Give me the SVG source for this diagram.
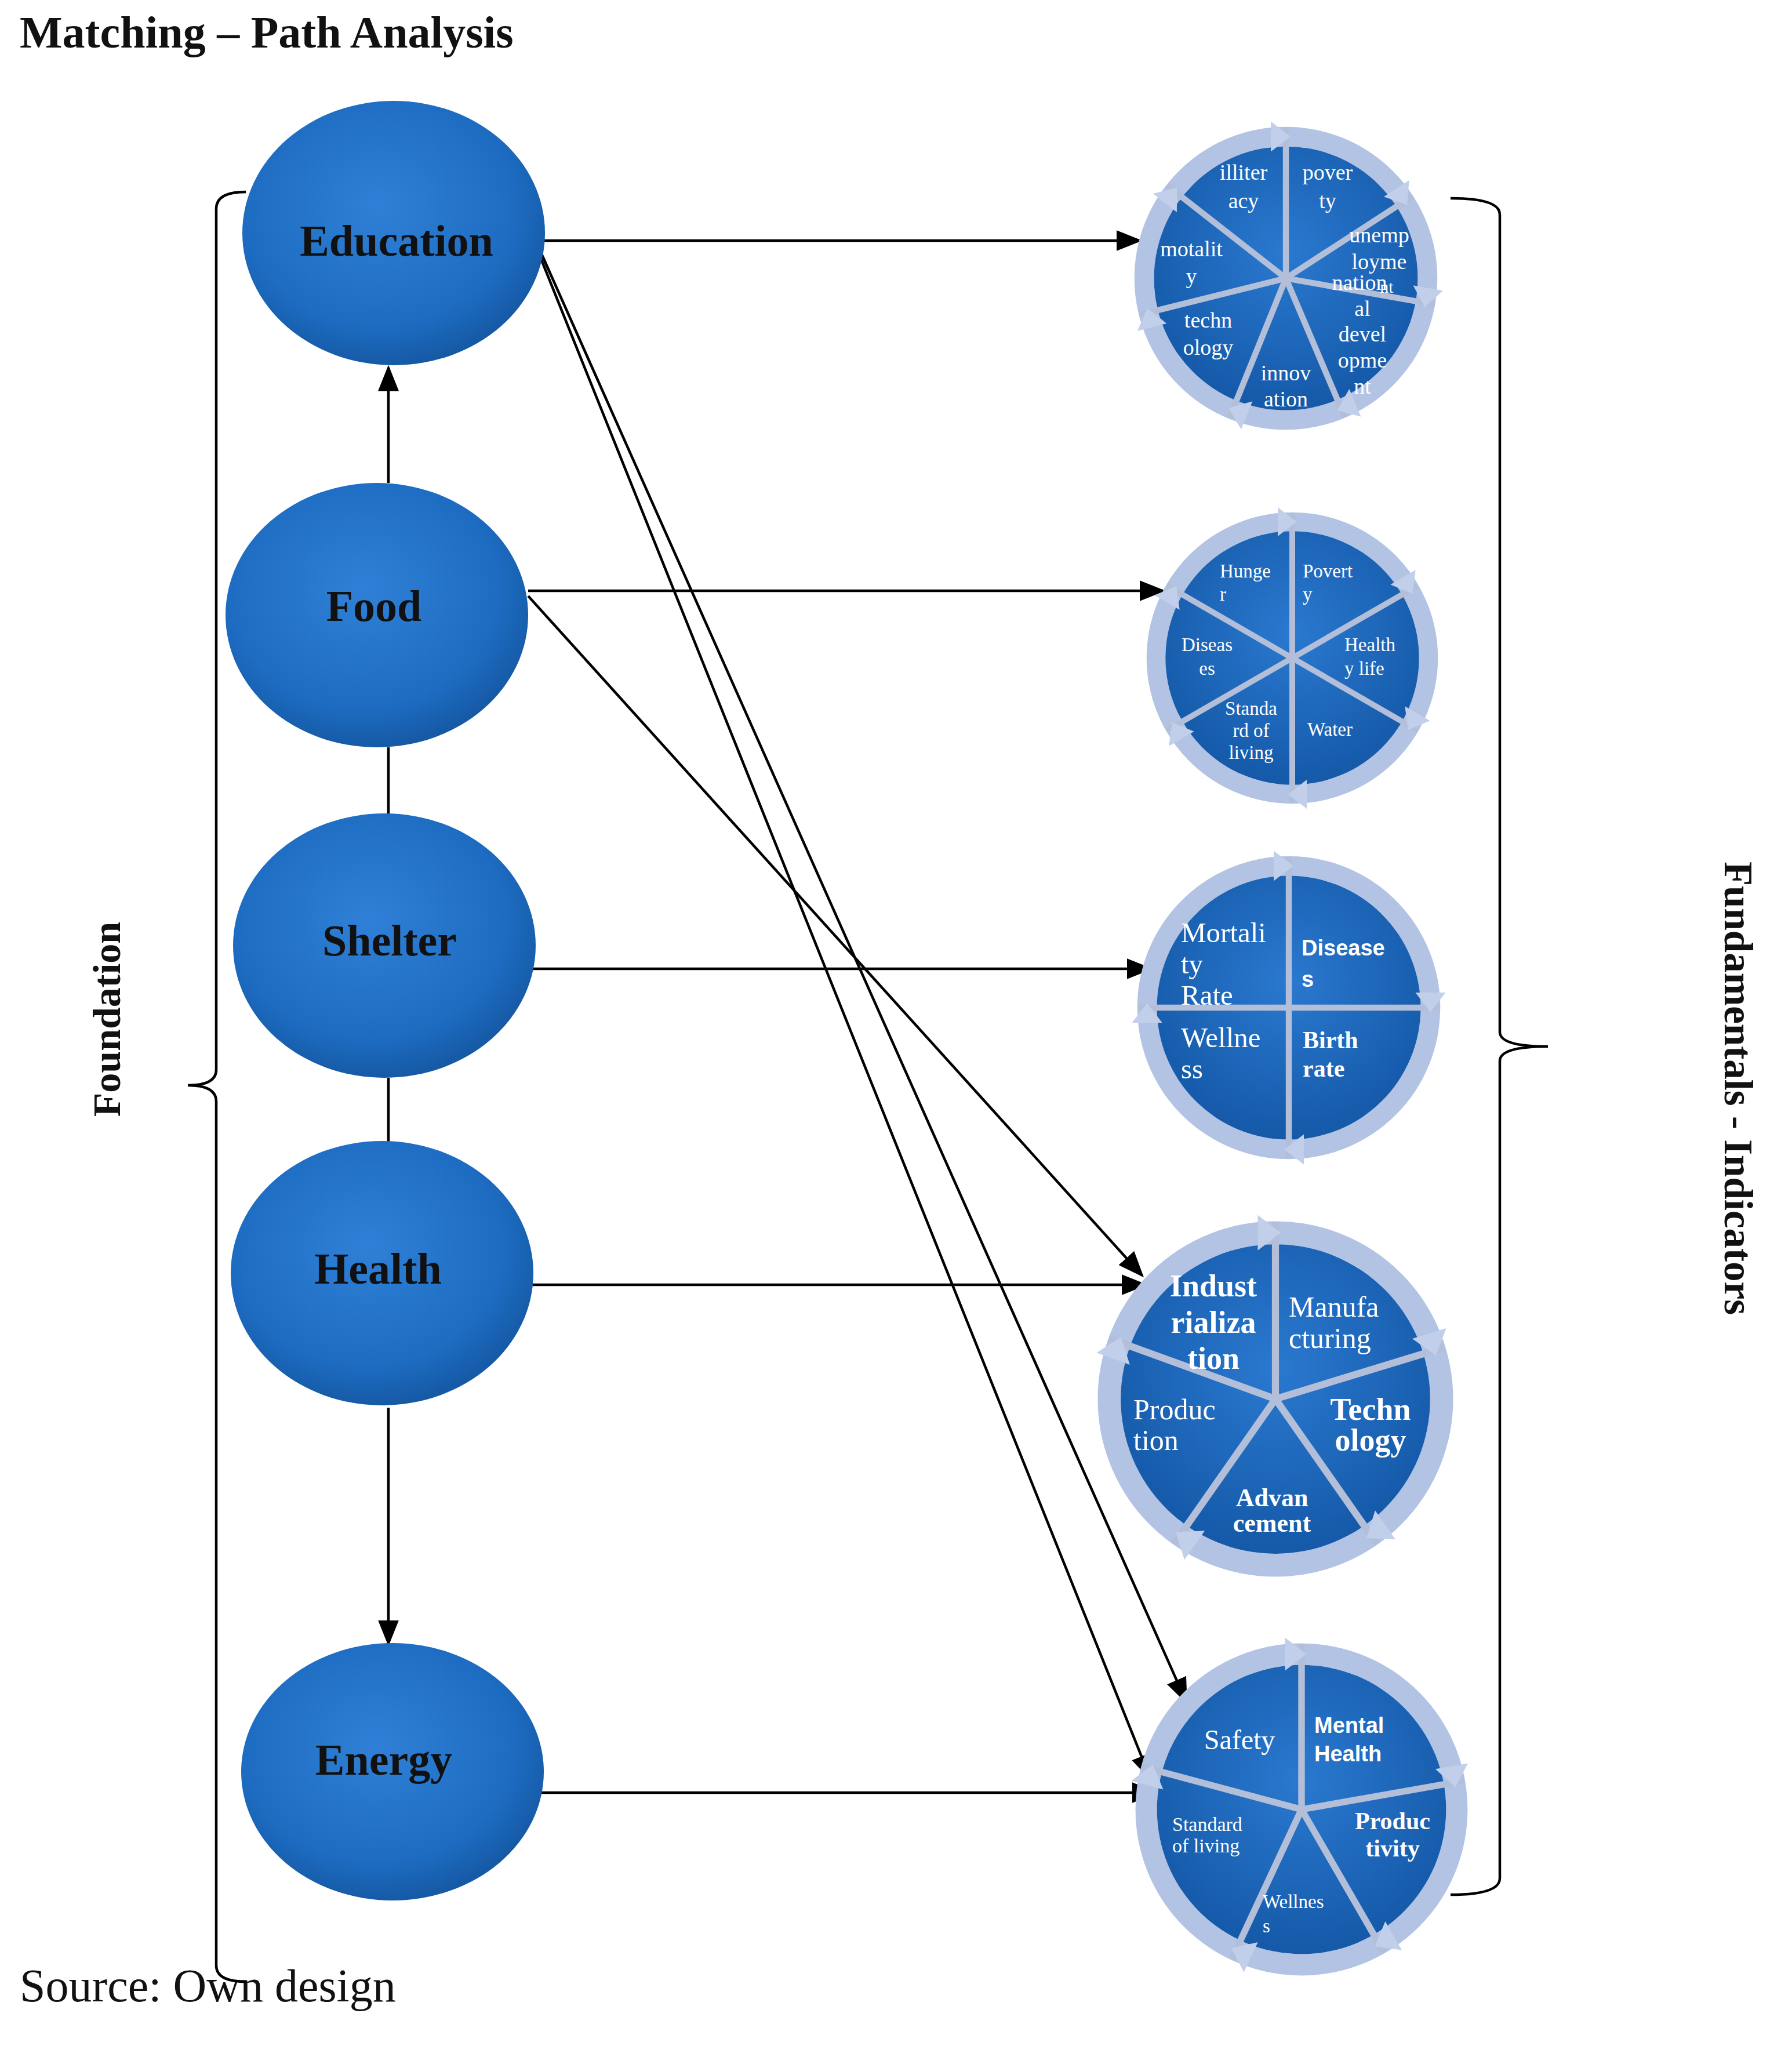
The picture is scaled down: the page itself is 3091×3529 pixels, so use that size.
<svg xmlns="http://www.w3.org/2000/svg" xmlns:xlink="http://www.w3.org/1999/xlink" width="3091" height="3529" viewBox="0 0 3091 3529">
<style>
.t{font-family:"Liberation Serif",serif;fill:#111}
.n{font-family:"Liberation Serif",serif;font-weight:bold;font-size:76px;fill:#111;text-anchor:middle;dominant-baseline:central}
.w{font-family:"Liberation Serif",serif;fill:#fff;dominant-baseline:central}
.ws{font-family:"Liberation Sans",sans-serif;font-weight:bold;fill:#fff;dominant-baseline:central}
.c{stroke:#000;stroke-width:4.5;fill:none}
.a{marker-end:url(#ar)}
.dv{stroke:#b3bfd8;stroke-width:4}
</style>
<defs>
<marker id="ar" markerWidth="10" markerHeight="8" refX="9" refY="4" orient="auto" markerUnits="strokeWidth"><path d="M0,0L10,4L0,8z" fill="#000"/></marker>
<radialGradient id="eg" cx="45%" cy="40%" r="60%"><stop offset="0" stop-color="#2f80d6"/><stop offset="0.75" stop-color="#1d6cc2"/><stop offset="1" stop-color="#165aa6"/></radialGradient>
<radialGradient id="pg" cx="50%" cy="40%" r="60%"><stop offset="0" stop-color="#2a79d0"/><stop offset="1" stop-color="#1559a8"/></radialGradient>
<g id="ring"><circle r="94" fill="none" stroke="#b2c3e4" stroke-width="13"/><circle r="87.5" fill="url(#pg)"/></g>
<g id="dv"><line x1="0" y1="0" x2="0" y2="-100" class="dv"/><polygon points="-10,-104 3,-94 -10,-84" fill="#c2cfea"/></g>
</defs>
<text x="34" y="82" class="t" font-size="78" font-weight="bold">Matching – Path Analysis</text>
<text x="34" y="3452" class="t" font-size="80">Source: Own design</text>

<g id="connectors">
<line x1="670" y1="833" x2="670" y2="634" class="c a"/>
<line x1="670" y1="1289" x2="670" y2="1407" class="c"/>
<line x1="670" y1="1859" x2="670" y2="1970" class="c"/>
<line x1="670" y1="2428" x2="670" y2="2835" class="c a"/>
<line x1="927" y1="415" x2="1966" y2="415" class="c a"/>
<line x1="911" y1="1019" x2="2006" y2="1019" class="c a"/>
<line x1="916" y1="1671" x2="1984" y2="1671" class="c a"/>
<line x1="916" y1="2216" x2="1975" y2="2216" class="c a"/>
<line x1="903" y1="3092" x2="1993" y2="3092" class="c a"/>
<line x1="911" y1="1028" x2="1970" y2="2200" class="c a"/>
<line x1="923" y1="413" x2="2046" y2="2935" class="c a"/>
<line x1="929" y1="436" x2="1984" y2="3067" class="c a"/>
<path d="M424,331 Q373,331 373,360 L373,1845 Q373,1872 324,1872 Q373,1872 373,1900 L373,3390 Q373,3418 424,3418" class="c" stroke-width="4"/>
<path d="M2502,342 Q2587,342 2587,370 L2587,1780 Q2587,1805 2670,1805 Q2587,1805 2587,1830 L2587,3240 Q2587,3268 2502,3268" class="c" stroke-width="4"/>
</g>
<text class="t" font-size="68" font-weight="bold" text-anchor="middle" transform="translate(207,1758) rotate(-90)">Foundation</text>
<text class="t" font-size="69" font-weight="bold" text-anchor="middle" transform="translate(2975,1877) rotate(90)">Fundamentals - Indicators</text>

<g id="education"><ellipse cx="679" cy="402" rx="261" ry="228" fill="url(#eg)"/><text x="684" y="415" class="n">Education</text></g>
<g id="food"><ellipse cx="650" cy="1061" rx="261" ry="228" fill="url(#eg)"/><text x="645" y="1045" class="n">Food</text></g>
<g id="shelter"><ellipse cx="663" cy="1631" rx="261" ry="228" fill="url(#eg)"/><text x="672" y="1622" class="n">Shelter</text></g>
<g id="health"><ellipse cx="659" cy="2196" rx="261" ry="228" fill="url(#eg)"/><text x="652" y="2188" class="n">Health</text></g>
<g id="energy"><ellipse cx="677" cy="3056" rx="261" ry="222" fill="url(#eg)"/><text x="662" y="3035" class="n">Energy</text></g>

<g id="pie1">
<g transform="translate(2218,480) scale(2.6)"><use href="#ring"/>
<use href="#dv"/><use href="#dv" transform="rotate(57)"/><use href="#dv" transform="rotate(100)"/><use href="#dv" transform="rotate(157)"/><use href="#dv" transform="rotate(202)"/><use href="#dv" transform="rotate(256)"/><use href="#dv" transform="rotate(308)"/></g>
<g class="w" font-size="38" text-anchor="middle">
<text x="2145" y="297">illiter</text><text x="2145" y="346">acy</text>
<text x="2290" y="297">pover</text><text x="2290" y="346">ty</text>
<text x="2379" y="405">unemp</text><text x="2379" y="451">loyme</text><text x="2392" y="494" font-size="30">nt</text>
<text x="2345" y="487">nation</text><text x="2350" y="532">al</text><text x="2350" y="576">devel</text><text x="2350" y="621">opme</text><text x="2350" y="666">nt</text>
<text x="2218" y="643">innov</text><text x="2218" y="688">ation</text>
<text x="2084" y="552">techn</text><text x="2084" y="599">ology</text>
<text x="2055" y="429">motalit</text><text x="2055" y="476">y</text>
</g></g>

<g id="pie2">
<g transform="translate(2229,1135) scale(2.5)"><use href="#ring"/>
<use href="#dv"/><use href="#dv" transform="rotate(60)"/><use href="#dv" transform="rotate(120)"/><use href="#dv" transform="rotate(180)"/><use href="#dv" transform="rotate(240)"/><use href="#dv" transform="rotate(300)"/></g>
<g class="w" font-size="33">
<text x="2104" y="985">Hunge</text><text x="2104" y="1025">r</text>
<text x="2247" y="985">Povert</text><text x="2247" y="1025">y</text>
<text x="2319" y="1112">Health</text><text x="2319" y="1153">y life</text>
<text x="2082" y="1112" text-anchor="middle">Diseas</text><text x="2082" y="1153" text-anchor="middle">es</text>
<text x="2158" y="1222" text-anchor="middle">Standa</text><text x="2158" y="1260" text-anchor="middle">rd of</text><text x="2158" y="1298" text-anchor="middle">living</text>
<text x="2294" y="1258" text-anchor="middle">Water</text>
</g></g>

<g id="pie3">
<g transform="translate(2223,1738) scale(2.6)"><use href="#ring"/>
<use href="#dv"/><use href="#dv" transform="rotate(90)"/><use href="#dv" transform="rotate(180)"/><use href="#dv" transform="rotate(270)"/></g>
<text x="2037" y="1608" class="w" font-size="49">Mortali</text><text x="2037" y="1662" class="w" font-size="49">ty</text><text x="2037" y="1716" class="w" font-size="49">Rate</text>
<text x="2245" y="1635" class="ws" font-size="38">Disease</text><text x="2245" y="1689" class="ws" font-size="38">s</text>
<text x="2037" y="1789" class="w" font-size="49">Wellne</text><text x="2037" y="1843" class="w" font-size="49">ss</text>
<text x="2247" y="1794" class="w" font-size="42" font-weight="bold">Birth</text><text x="2247" y="1843" class="w" font-size="42" font-weight="bold">rate</text>
</g>

<g id="pie4">
<g transform="translate(2200,2413) scale(3.05)"><use href="#ring"/>
<use href="#dv"/><use href="#dv" transform="rotate(73)"/><use href="#dv" transform="rotate(145)"/><use href="#dv" transform="rotate(215)"/><use href="#dv" transform="rotate(290)"/></g>
<g class="w" font-size="54" font-weight="bold" text-anchor="middle">
<text x="2093" y="2218">Indust</text><text x="2093" y="2281">rializa</text><text x="2093" y="2343">tion</text>
<text x="2364" y="2431">Techn</text><text x="2364" y="2484">ology</text>
<text x="2194" y="2583" font-size="44">Advan</text><text x="2194" y="2627" font-size="44">cement</text>
</g>
<text x="2223" y="2254" class="w" font-size="50">Manufa</text><text x="2223" y="2308" class="w" font-size="50">cturing</text>
<text x="1955" y="2431" class="w" font-size="50">Produc</text><text x="1955" y="2484" class="w" font-size="50">tion</text>
</g>

<g id="pie5">
<g transform="translate(2245,3121) scale(2.85)"><use href="#ring"/>
<use href="#dv"/><use href="#dv" transform="rotate(80)"/><use href="#dv" transform="rotate(150)"/><use href="#dv" transform="rotate(205)"/><use href="#dv" transform="rotate(285)"/></g>
<text x="2138" y="3000" class="w" font-size="48" text-anchor="middle">Safety</text>
<text x="2267" y="2976" class="ws" font-size="38">Mental</text><text x="2267" y="3025" class="ws" font-size="38">Health</text>
<text x="2402" y="3141" class="w" font-size="42" font-weight="bold" text-anchor="middle">Produc</text><text x="2402" y="3188" class="w" font-size="42" font-weight="bold" text-anchor="middle">tivity</text>
<text x="2022" y="3146" class="w" font-size="34">Standard</text><text x="2022" y="3183" class="w" font-size="34">of living</text>
<text x="2178" y="3280" class="w" font-size="33">Wellnes</text><text x="2178" y="3322" class="w" font-size="33">s</text>
</g>
</svg>
